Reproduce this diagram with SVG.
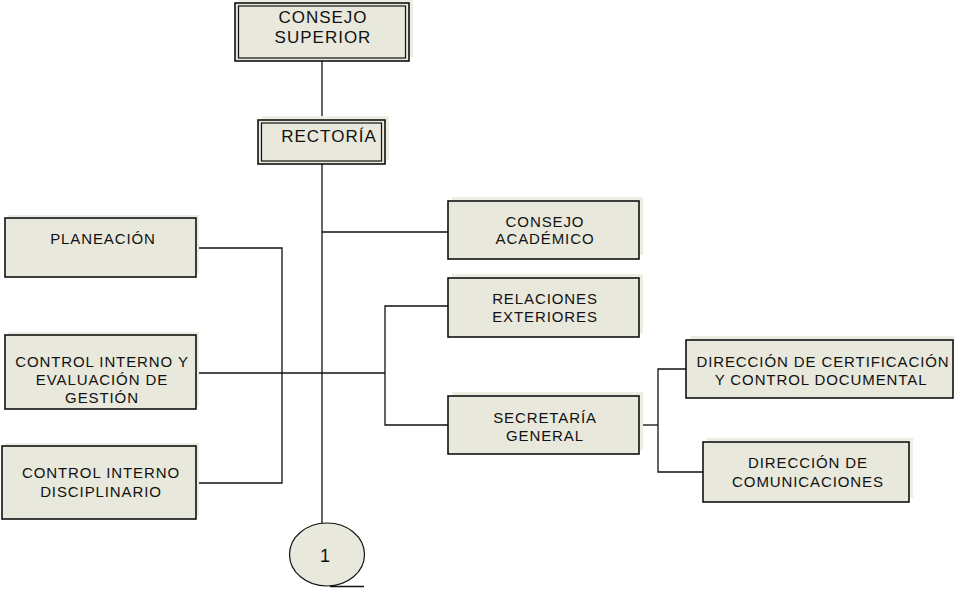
<svg xmlns="http://www.w3.org/2000/svg" width="954" height="589" viewBox="0 0 954 589">
  <style>
    .shadow { fill: #ededE2; stroke: none; }
    .box { fill: #e8e8dc; stroke: #111; stroke-width: 1.6; }
    .inner { fill: none; stroke: #111; stroke-width: 1.2; }
    .lbl { font-family: "Liberation Sans", Arial, sans-serif; font-size: 15px; letter-spacing: 0.9px; fill: #111; text-anchor: middle; }
    .big { font-size: 17px; letter-spacing: 1px; }
    .wire { fill: none; stroke: #111; stroke-width: 1.3; }
  </style>

  <!-- connectors -->
  <g id="connectors">
    <path class="wire" d="M322,61 V120"/>
    <path class="wire" d="M322,164 V523"/>
    <path class="wire" d="M322,232 H448"/>
    <path class="wire" d="M196,248 H282 V483 H196"/>
    <path class="wire" d="M196,373 H385"/>
    <path class="wire" d="M448,306 H385 V425 H448"/>
    <path class="wire" d="M639,425 H658"/>
    <path class="wire" d="M686,369 H658 V472 H703"/>
    <path class="wire" d="M330,586.5 H364"/>
  </g>

  <g id="consejo-superior">
    <rect class="shadow" x="239" y="0" width="174" height="57"/>
    <rect class="box" x="235" y="3" width="174" height="58"/>
    <rect class="inner" x="238.5" y="6" width="167" height="52"/>
    <text class="lbl big" x="323" y="23">CONSEJO</text>
    <text class="lbl big" x="323" y="43">SUPERIOR</text>
  </g>

  <g id="rectoria">
    <rect class="shadow" x="262" y="116" width="127" height="44"/>
    <rect class="box" x="258" y="120" width="127" height="44"/>
    <rect class="inner" x="261.5" y="123" width="120" height="38"/>
    <text class="lbl big" x="329" y="142">RECTORÍA</text>
  </g>

  <g id="planeacion">
    <rect class="shadow" x="8" y="215" width="191" height="59"/>
    <rect class="box" x="5" y="218" width="191" height="59"/>
    <text class="lbl" x="103" y="244">PLANEACIÓN</text>
  </g>

  <g id="control-interno-evaluacion">
    <rect class="shadow" x="8" y="332" width="191" height="74"/>
    <rect class="box" x="5" y="335" width="191" height="74"/>
    <text class="lbl" x="102" y="367">CONTROL INTERNO Y</text>
    <text class="lbl" x="102" y="385">EVALUACIÓN DE</text>
    <text class="lbl" x="102" y="403">GESTIÓN</text>
  </g>

  <g id="control-interno-disciplinario">
    <rect class="shadow" x="5" y="443" width="194" height="73"/>
    <rect class="box" x="2" y="446" width="194" height="73"/>
    <text class="lbl" x="101" y="478">CONTROL INTERNO</text>
    <text class="lbl" x="101" y="497">DISCIPLINARIO</text>
  </g>

  <g id="consejo-academico">
    <rect class="shadow" x="452" y="197" width="191" height="58"/>
    <rect class="box" x="448" y="201" width="191" height="58"/>
    <text class="lbl" x="545" y="227">CONSEJO</text>
    <text class="lbl" x="545" y="244">ACADÉMICO</text>
  </g>

  <g id="relaciones-exteriores">
    <rect class="shadow" x="452" y="274" width="191" height="59"/>
    <rect class="box" x="448" y="278" width="191" height="59"/>
    <text class="lbl" x="545" y="304">RELACIONES</text>
    <text class="lbl" x="545" y="322">EXTERIORES</text>
  </g>

  <g id="secretaria-general">
    <rect class="shadow" x="452" y="392" width="191" height="58"/>
    <rect class="box" x="448" y="396" width="191" height="58"/>
    <text class="lbl" x="545" y="423">SECRETARÍA</text>
    <text class="lbl" x="545" y="441">GENERAL</text>
  </g>

  <g id="direccion-certificacion">
    <rect class="shadow" x="690" y="336" width="266" height="58"/>
    <rect class="box" x="686" y="340" width="267" height="58"/>
    <text class="lbl" x="823" y="367">DIRECCIÓN DE CERTIFICACIÓN</text>
    <text class="lbl" x="821" y="385">Y CONTROL DOCUMENTAL</text>
  </g>

  <g id="direccion-comunicaciones">
    <rect class="shadow" x="707" y="438" width="206" height="60"/>
    <rect class="box" x="703" y="442" width="206" height="60"/>
    <text class="lbl" x="808" y="468">DIRECCIÓN DE</text>
    <text class="lbl" x="808" y="487">COMUNICACIONES</text>
  </g>

  <g id="conector-1">
    <ellipse cx="327" cy="554.5" rx="37.5" ry="31.5" fill="#e8e8dc" stroke="#111" stroke-width="1.2"/>
    <text x="325" y="562" font-family="Liberation Sans, Arial, sans-serif" font-size="18" fill="#111" text-anchor="middle">1</text>
  </g>
</svg>
